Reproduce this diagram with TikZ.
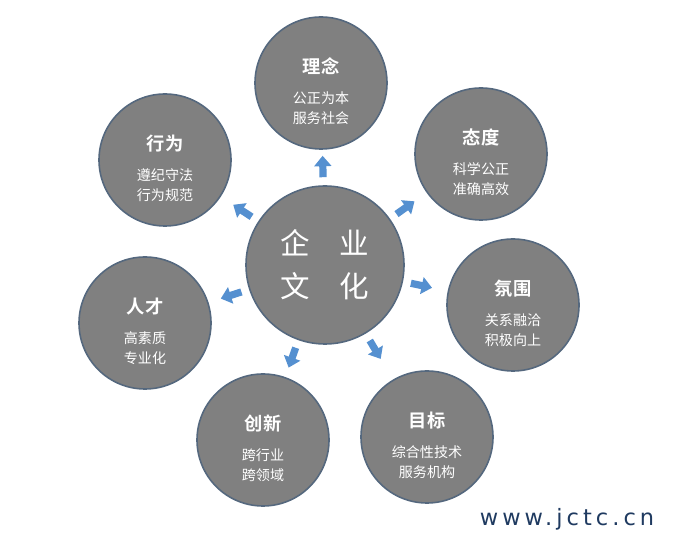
\documentclass[tikz,border=0pt]{standalone}
\usepackage{fontspec}
\setmainfont{Noto Sans CJK SC}[BoldFont={Noto Sans CJK SC Bold}]
\newfontfamily\sitefont[LetterSpace=18]{DejaVu Sans}
\usetikzlibrary{calc, arrows.meta}
\definecolor{bubblegray}{HTML}{808080}
\definecolor{bubbleedge}{HTML}{55687E}
\definecolor{arrowblue}{HTML}{5590D0}
\definecolor{sitenavy}{HTML}{1F3A60}
\newcommand{\bubtitle}[1]{{\fontsize{13}{15}\selectfont\bfseries #1}}

\begin{document}
\begin{tikzpicture}[thick, >=latex,
        bubble/.style={draw=bubbleedge, line width=0.04cm, fill=bubblegray, circle, inner sep=0pt, minimum size=3.3cm},
        bubtext/.style={text=white, align=center, font=\fontsize{10}{14.2}\selectfont},
        flow/.style={draw=arrowblue, line width=0.18cm, -{Triangle[width=0.42cm, length=0.26cm]}, shorten <=0.2cm}]
        \useasboundingbox (0,0) rectangle (17,13.45);

        \node (core) [bubble, minimum size=3.95cm] at (8.125, 6.825) {};
        \node (core-t) [text=white, align=center, font=\fontsize{21}{30.6}\selectfont] at (core) {企\quad 业\\文\quad 化};

        \node (linian) [bubble] at (8.025, 11.375) {};
        \node (linian-t) [bubtext] at ([yshift=-0.2cm]linian) {\bubtitle{理念}\\[7pt]公正为本\\服务社会};
        \node (taidu) [bubble] at (12.025, 9.6) {};
        \node (taidu-t) [bubtext] at ([yshift=-0.2cm]taidu) {\bubtitle{态度}\\[7pt]科学公正\\准确高效};
        \node (fenwei) [bubble] at (12.825, 5.825) {};
        \node (fenwei-t) [bubtext] at ([yshift=-0.2cm]fenwei) {\bubtitle{氛围}\\[7pt]关系融洽\\积极向上};
        \node (mubiao) [bubble] at (10.675, 2.525) {};
        \node (mubiao-t) [bubtext] at ([yshift=-0.2cm]mubiao) {\bubtitle{目标}\\[7pt]综合性技术\\服务机构};
        \node (chuangxin) [bubble] at (6.575, 2.45) {};
        \node (chuangxin-t) [bubtext] at ([yshift=-0.2cm]chuangxin) {\bubtitle{创新}\\[7pt]跨行业\\跨领域};
        \node (rencai) [bubble] at (3.625, 5.375) {};
        \node (rencai-t) [bubtext] at ([yshift=-0.2cm]rencai) {\bubtitle{人才}\\[7pt]高素质\\专业化};
        \node (xingwei) [bubble] at (4.125, 9.45) {};
        \node (xingwei-t) [bubtext] at ([yshift=-0.2cm]xingwei) {\bubtitle{行为}\\[7pt]遵纪守法\\行为规范};

        \draw[flow, shorten >=0.15cm] (core) -- (linian);
        \draw[flow, shorten >=0.37cm] (core) -- (taidu);
        \draw[flow, shorten >=0.4cm] (core) -- (fenwei);
        \draw[flow, shorten >=0.6cm] (core) -- (mubiao);
        \draw[flow, shorten >=0.25cm] (core) -- (chuangxin);
        \draw[flow, shorten >=0.32cm] (core) -- (rencai);
        \draw[flow, shorten >=0.37cm] (core) -- (xingwei);

        \node (site) [text=sitenavy, font=\sitefont\fontsize{16}{18}\selectfont] at (14.175, 0.475) {www.jctc.cn};
    \end{tikzpicture}
\end{document}
